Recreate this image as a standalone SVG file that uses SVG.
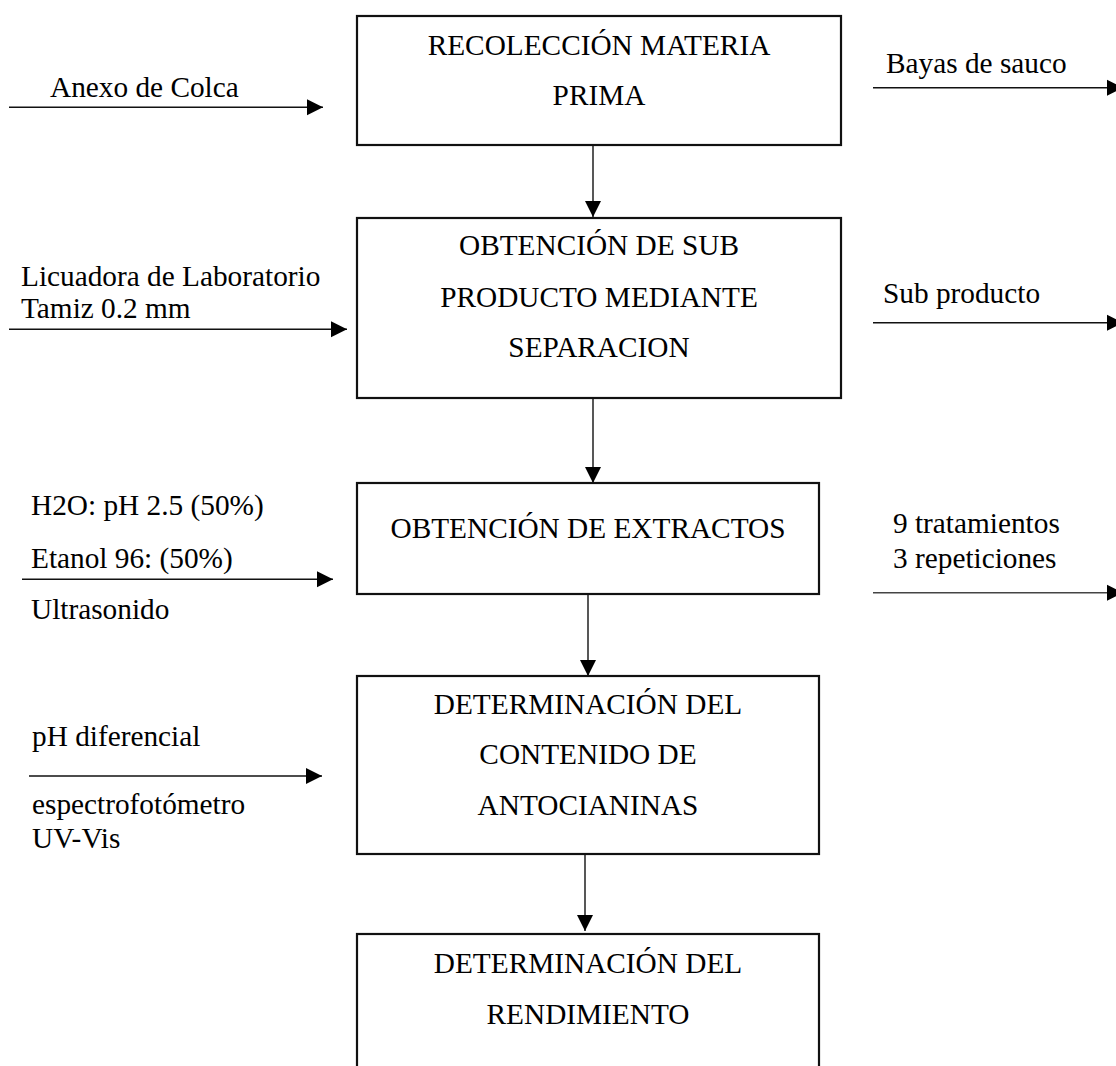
<svg xmlns="http://www.w3.org/2000/svg" width="1116" height="1066" viewBox="0 0 1116 1066">
<style>
text{font-family:"Liberation Serif","Times New Roman",serif;font-size:29.3px;fill:#000}
.c{text-anchor:middle}
.box{fill:#fff;stroke:#111;stroke-width:2.2}
.ln{stroke:#111;stroke-width:1.4;fill:none;marker-end:url(#ah)}
</style>
<defs>
<marker id="ah" markerUnits="userSpaceOnUse" markerWidth="17" markerHeight="17" refX="16" refY="8" orient="auto" overflow="visible">
<path d="M0,0 L16,8 L0,16 z" fill="#000"/>
</marker>
</defs>
<rect width="1116" height="1066" fill="#fff"/>
<g id="connectors">
<line class="ln" x1="9" y1="107.3" x2="323" y2="107.3"/>
<line class="ln" x1="9" y1="329.3" x2="347" y2="329.3"/>
<line class="ln" x1="22" y1="579.3" x2="333" y2="579.3"/>
<line class="ln" x1="29" y1="776" x2="322" y2="776"/>
<line class="ln" x1="873" y1="87.7" x2="1123" y2="87.7"/>
<line class="ln" x1="873" y1="322.7" x2="1123" y2="322.7"/>
<line class="ln" x1="873" y1="592.7" x2="1123" y2="592.7" style="stroke:#444"/>
<line class="ln" x1="593" y1="146" x2="593" y2="217"/>
<line class="ln" x1="593" y1="399" x2="593" y2="483"/>
<line class="ln" x1="588" y1="595" x2="588" y2="676"/>
<line class="ln" x1="585" y1="855" x2="585" y2="931"/>
</g>
<g id="node1">
<rect class="box" x="357" y="16" width="484" height="129"/>
<text class="c" x="599" y="55">RECOLECCIÓN MATERIA</text>
<text class="c" x="599" y="105">PRIMA</text>
</g>
<g id="node2">
<rect class="box" x="357" y="218" width="484" height="180"/>
<text class="c" x="599" y="255">OBTENCIÓN DE SUB</text>
<text class="c" x="599" y="307">PRODUCTO MEDIANTE</text>
<text class="c" x="599" y="357">SEPARACION</text>
</g>
<g id="node3">
<rect class="box" x="357" y="483" width="462" height="111"/>
<text class="c" x="588" y="538">OBTENCIÓN DE EXTRACTOS</text>
</g>
<g id="node4">
<rect class="box" x="357" y="676" width="462" height="178"/>
<text class="c" x="588" y="714">DETERMINACIÓN DEL</text>
<text class="c" x="588" y="764">CONTENIDO DE</text>
<text class="c" x="588" y="815">ANTOCIANINAS</text>
</g>
<g id="node5">
<rect class="box" x="357" y="934" width="462" height="200"/>
<text class="c" x="588" y="973">DETERMINACIÓN DEL</text>
<text class="c" x="588" y="1024">RENDIMIENTO</text>
</g>
<g id="labels">
<text x="50" y="97">Anexo de Colca</text>
<text x="21" y="286">Licuadora de Laboratorio</text>
<text x="21" y="318">Tamiz 0.2 mm</text>
<text x="31" y="515">H2O: pH 2.5 (50%)</text>
<text x="31" y="568">Etanol 96: (50%)</text>
<text x="31" y="619">Ultrasonido</text>
<text x="32" y="746">pH diferencial</text>
<text x="32" y="814">espectrofotómetro</text>
<text x="32" y="848">UV-Vis</text>
<text x="886" y="73">Bayas de sauco</text>
<text x="883" y="303">Sub producto</text>
<text x="893" y="533">9 tratamientos</text>
<text x="893" y="568">3 repeticiones</text>
</g>
</svg>
